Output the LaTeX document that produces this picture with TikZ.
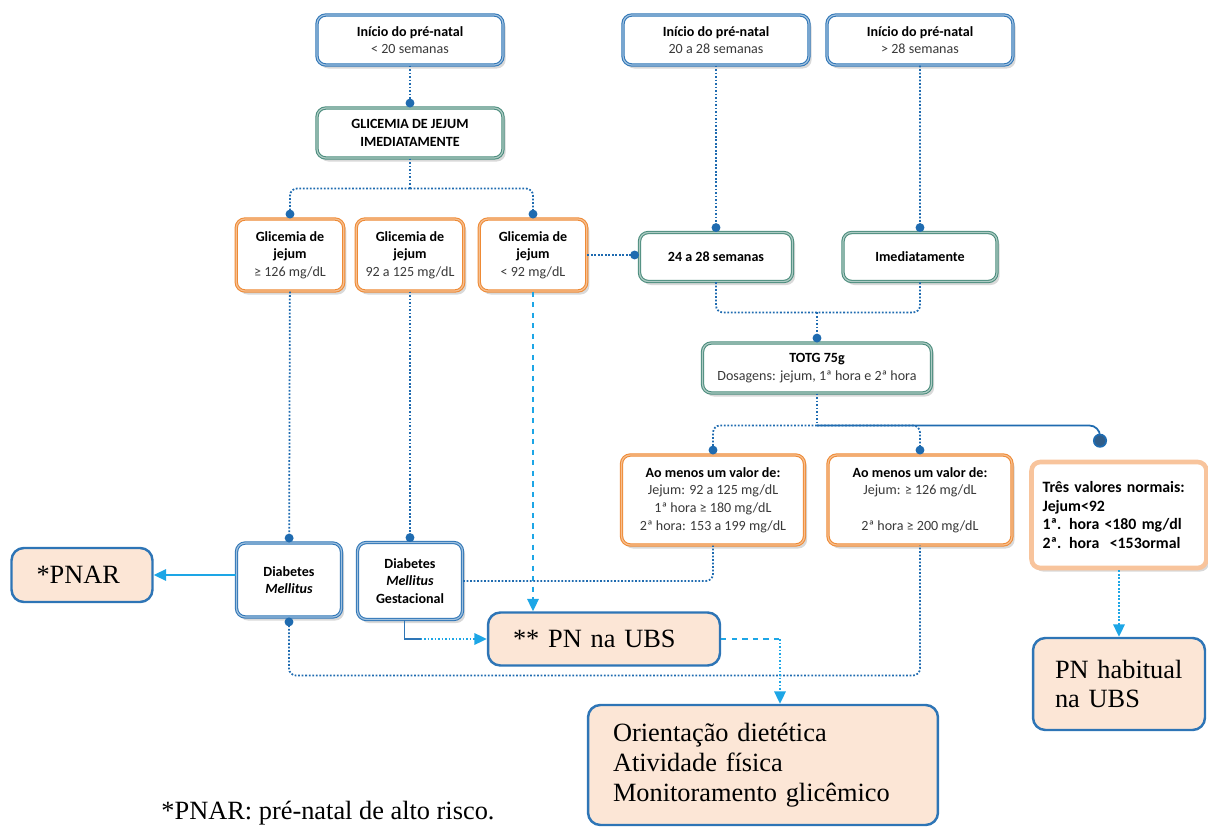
\documentclass[tikz,border=0pt]{standalone}
\usepackage{fontspec}
\setmainfont{Liberation Serif}
\setsansfont{Carlito}
\usetikzlibrary{arrows.meta,positioning,shadows,calc}
\definecolor{boxblue}{HTML}{2E75B6}
\definecolor{boxgreen}{HTML}{4A8C7C}
\definecolor{boxorange}{HTML}{EE8A35}
\definecolor{paleorange}{HTML}{F8C49C}
\definecolor{peach}{HTML}{FCE6D6}
\definecolor{linkblue}{HTML}{1F6BB0}
\definecolor{linkcyan}{HTML}{1DA6E6}
\definecolor{dotnavy}{HTML}{2F5D8A}
\definecolor{textgray}{HTML}{3A3A3A}
\tikzset{
    %Define standard arrow tip
    >={Triangle[length=7pt,width=6.5pt]},
    dotend/.style={-{Circle[length=5pt]}},
    %Define style for boxes
    box/.style={
           rounded corners=5pt,
           fill=white,
           align=center,
           text=textgray,
           font=\sffamily\fontsize{8}{10}\selectfont,
           inner sep=2pt,
           drop shadow={shadow xshift=1.5pt, shadow yshift=-2pt, opacity=0.3},},
    startbox/.style={box, draw=boxblue, line width=0.6pt,
           double=boxblue!45, double distance=0.7pt,
           minimum width=3.72cm, minimum height=1cm},
    greenbox/.style={box, draw=boxgreen, line width=0.6pt,
           double=boxgreen!45, double distance=0.7pt,
           minimum width=3.72cm, minimum height=1cm},
    valuebox/.style={box, draw=boxorange, line width=0.6pt,
           double=boxorange!55, double distance=0.7pt,
           minimum width=2.15cm, minimum height=1.44cm},
    normalbox/.style={box, draw=paleorange, line width=2.6pt,
           align=left, text=black,
           font=\sffamily\bfseries\fontsize{9}{10.8}\selectfont,
           inner xsep=0.22cm, text width=3.06cm, minimum height=2.12cm},
    refbox/.style={
           rounded corners=7pt,
           draw=boxblue,
           line width=1.4pt,
           fill=peach,
           align=left,
           inner xsep=0.5cm,
           font=\rmfamily\fontsize{15}{17}\selectfont},
    %Define style for connectors
    dotlink/.style={draw=linkblue, line width=1pt, densely dotted},
    dotcyan/.style={draw=linkcyan, line width=1pt, densely dotted},
    dashlink/.style={draw=linkcyan, line width=1pt, dashed},
    arrowlink/.style={->, draw=linkcyan, line width=0.9pt},
}

\begin{document}
\begin{tikzpicture}[x=0.02cm, y=-0.02cm, node distance=0.34cm, auto,]
 \useasboundingbox (0,0) rectangle (1208,831);
 %nodes
 \node[startbox] (start1) at (410,40) {\textbf{\color{black}Início do pré-natal}\\< 20 semanas};
 \node[startbox] (start2) at (716,40) {\textbf{\color{black}Início do pré-natal}\\20 a 28 semanas};
 \node[startbox, right=of start2] (start3) {\textbf{\color{black}Início do pré-natal}\\> 28 semanas};
 \node[greenbox, text=black] (glicjejum) at (410,133) {\textbf{GLICEMIA DE JEJUM}\\\textbf{IMEDIATAMENTE}};

 \node[valuebox] (glic1) at (290,255) {\textbf{\color{black}Glicemia de}\\\textbf{\color{black}jejum}\\≥ 126 mg/dL};
 \node[valuebox] (glic2) at (410,255) {\textbf{\color{black}Glicemia de}\\\textbf{\color{black}jejum}\\92 a 125 mg/dL};
 \node[valuebox] (glic3) at (533,255) {\textbf{\color{black}Glicemia de}\\\textbf{\color{black}jejum}\\< 92 mg/dL};
 \node[greenbox, text=black, minimum width=3.06cm, minimum height=0.98cm] (wk24) at (716,257) {\textbf{24 a 28 semanas}};
 \node[greenbox, text=black, minimum width=3.08cm, minimum height=0.98cm] (imed) at (920,257) {\textbf{Imediatamente}};
 \node[greenbox, minimum width=4.58cm] (totg) at (817,368) {\textbf{\color{black}TOTG 75g}\\Dosagens: jejum, 1ª hora e 2ª hora};

 \node[valuebox, minimum width=3.66cm, minimum height=1.8cm] (ao1) at (713,500) {\textbf{\color{black}Ao menos um valor de:}\\Jejum: 92 a 125 mg/dL\\1ª hora ≥ 180 mg/dL\\2ª hora: 153 a 199 mg/dL};
 \node[valuebox, minimum width=3.68cm, minimum height=1.8cm] (ao2) at (920,500) {\textbf{\color{black}Ao menos um valor de:}\\Jejum: ≥ 126 mg/dL\\[10pt]2ª hora ≥ 200 mg/dL};
 \node[normalbox] (tres) at (1119,515) {Três valores normais:\\Jejum<92\\1ª. hora <180 mg/dl\\2ª. hora~~<153ormal};

 \node[startbox, text=black, minimum width=2.1cm, minimum height=1.48cm] (dm) at (289,580) {\textbf{Diabetes}\\\textbf{\textit{Mellitus}}};
 \node[startbox, text=black, minimum width=2.1cm, minimum height=1.54cm] (dmg) at (410,581) {\textbf{Diabetes}\\\textbf{\textit{Mellitus}}\\\textbf{Gestacional}};

 \node[refbox, text width=1.82cm, minimum height=1.08cm] (pnar) at (82,575) {*PNAR};
 \node[refbox, text width=3.64cm, minimum height=1.06cm] (pnubs) at (604,639) {** PN na UBS};
 \node[refbox, text width=6cm, minimum height=2.4cm] (orient) at (763,765) {Orientação dietética\\Atividade física\\Monitoramento glicêmico};
 \node[refbox, inner xsep=0.44cm, text width=2.56cm, minimum height=1.84cm] (pnhab) at (1119,684) {PN habitual\\na UBS};

 \node[font=\rmfamily\fontsize{15}{17}\selectfont] (note) at (328,813) {*PNAR: pré-natal de alto risco.};

 %connectors
 \path (start1) edge[dotlink, dotend] (glicjejum);
 \path (start2) edge[dotlink, dotend] (wk24);
 \path (start3) edge[dotlink, dotend] (imed);

 \draw[dotlink] (glicjejum.south) -- ++(0,30) coordinate (split1);
 \draw[dotlink, dotend, rounded corners=4pt] (split1) -| (glic1.north);
 \draw[dotlink, dotend, rounded corners=4pt] (split1) -| (glic3.north);
 \draw[dotlink, dotend] (glic3.east) -- (glic3.east -| wk24.west);

 \coordinate (join2) at ($(totg.north)+(0,-30)$);
 \draw[dotlink, rounded corners=4pt] (wk24.south) |- (join2) -| (imed.south);
 \path (join2) edge[dotlink, dotend] (totg.north);

 \draw[dotlink] (totg.south) -- ++(0,32) coordinate (split3);
 \draw[dotlink, dotend, rounded corners=4pt] (split3) -| (ao1.north);
 \draw[dotlink, dotend, rounded corners=4pt] (split3) -| (ao2.north);
 \draw[draw=linkblue, line width=1pt, -{Circle[length=8pt,fill=dotnavy]}, rounded corners=6pt] (split3) -| ($(tres.north)+(-19,-12)$);

 \path (glic1) edge[dotlink, dotend] (dm);
 \path (glic2) edge[dotlink, dotend] (dmg);
 \draw[dashlink, ->] (glic3.south) -- (glic3.south |- pnubs.north);

 \draw[arrowlink] (dm.west |- pnar.east) -- (pnar.east);
 \draw[dotlink, rounded corners=4pt] (dmg.east) -| (ao1.south);
 \draw[draw=boxblue, line width=0.8pt] ([xshift=-3pt]dmg.south) |- ([xshift=6pt]dmg.south |- pnubs.west) coordinate (bend1);
 \draw[dotcyan, ->] (bend1) -- (pnubs.west);
 \draw[dotlink, {Circle[length=5pt]}-, rounded corners=4pt] (dm.south) -- ++(0,58) -| (ao2.south);

 \coordinate (oin) at ($(orient.north)+(17,0)$);
 \draw[dashlink] (pnubs.east) -- (pnubs.east -| oin);
 \draw[dotcyan, ->] (pnubs.east -| oin) -- (oin);
 \path (tres) edge[dotcyan, ->] (pnhab);

\end{tikzpicture}
\end{document}
